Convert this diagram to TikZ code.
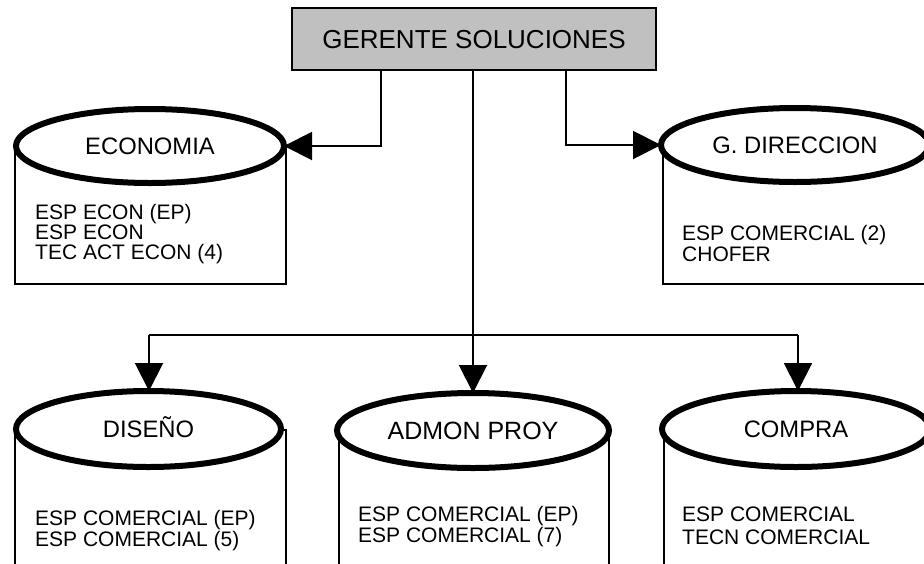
\documentclass[tikz,border=0pt]{standalone}
\usepackage{fontspec}
\setmainfont{Liberation Sans}
\usetikzlibrary{shapes.geometric,arrows.meta}
\begin{document}
\begin{tikzpicture}[x=1pt,y=-1pt,
  boss/.style={draw=black,line width=2pt,fill={rgb,255:red,192;green,192;blue,192},
    minimum width=364pt,minimum height=62pt,inner sep=0pt,
    font=\fontsize{26}{30}\selectfont,text height=18.6pt,text depth=0pt},
  dept/.style={ellipse,draw=black,line width=6pt,fill=white,inner sep=0pt,
    font=\fontsize{23.8}{26}\selectfont,text height=17pt,text depth=0pt},
  deptbox/.style={draw=black,line width=1.6pt,inner sep=0pt,anchor=north west},
  item/.style={anchor=base west,inner sep=0pt,font=\fontsize{21}{20}\selectfont},
  conn/.style={draw=black,line width=2pt,
    -{Triangle[length=28pt,width=28pt]},shorten >=-3pt},
  plain/.style={draw=black,line width=2pt}]
\useasboundingbox (0,0) rectangle (924,563);
\clip (0,0) rectangle (924,563);
\fill[white] (0,0) rectangle (924,563);

% boxes behind the ellipses
\node[deptbox,minimum width=271pt,minimum height=138pt] (econbox) at (14,145) {};
\node[deptbox,minimum width=280pt,minimum height=138pt] (gdirbox) at (662,145) {};
\node[deptbox,minimum width=271pt,minimum height=160pt] (disbox) at (14,429) {};
\node[deptbox,minimum width=270pt,minimum height=160pt] (admbox) at (338,430) {};
\node[deptbox,minimum width=280pt,minimum height=160pt] (compbox) at (663,429) {};

% top node
\node[boss] (gs) at (474,39) {GERENTE SOLUCIONES};

% ellipses
\node[dept,minimum width=268pt,minimum height=74pt] (econ) at (150,146) {ECONOMIA};
\node[dept,minimum width=268pt,minimum height=74pt] (gdir) at (795,145) {G. DIRECCION};
\node[dept,minimum width=265pt,minimum height=76pt] (dis) at (148.5,429) {DISEÑO};
\node[dept,minimum width=272pt,minimum height=75pt,font=\fontsize{25}{28}\selectfont,text height=17.9pt] (adm) at (473,430.5) {ADMON PROY};
\node[dept,minimum width=268pt,minimum height=76pt] (comp) at (796,429) {COMPRA};

% connectors
\coordinate (l1) at (381,70);
\coordinate (l2) at (381,146);
\coordinate (r1) at (566,70);
\coordinate (r2) at (566,145);
\coordinate (c1) at (473,70);
\coordinate (b1) at (149,335);
\coordinate (b2) at (798,335);
\draw[conn] (l1) -- (l2) -- (econ.east);
\draw[conn] (r1) -- (r2) -- (gdir.west);
\draw[conn] (c1) -- (c1 |- adm.north);
\draw[plain] (b1) -- (b2);
\draw[conn] (b1) -- (b1 |- dis.north);
\draw[conn] (b2) -- (b2 |- comp.north);

% texts
\node[item] (t1) at (35,219.5) {ESP ECON (EP)};
\node[item] (t2) at (35,239.5) {ESP ECON};
\node[item] (t3) at (35,259.5) {TEC ACT ECON (4)};
\node[item] (t4) at (682,240) {ESP COMERCIAL (2)};
\node[item] (t5) at (682,261) {CHOFER};
\node[item] (t6) at (35,525.5) {ESP COMERCIAL (EP)};
\node[item] (t7) at (35,546.5) {ESP COMERCIAL (5)};
\node[item] (t8) at (358,521) {ESP COMERCIAL (EP)};
\node[item] (t9) at (358,542) {ESP COMERCIAL (7)};
\node[item] (t10) at (682,521) {ESP COMERCIAL};
\node[item] (t11) at (682,544) {TECN COMERCIAL};
\end{tikzpicture}
\end{document}
